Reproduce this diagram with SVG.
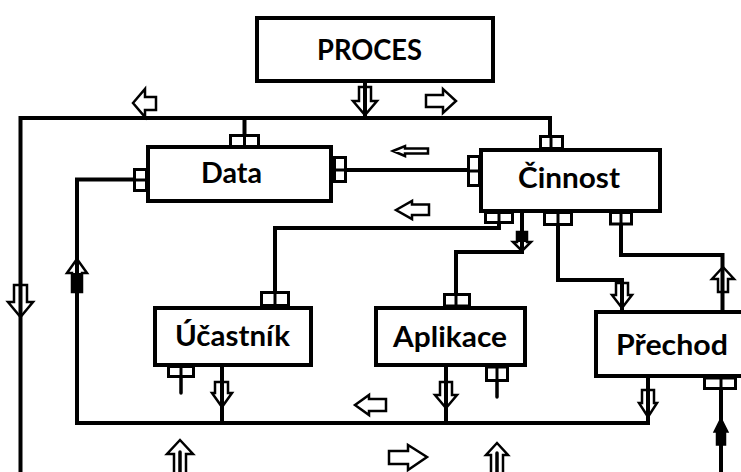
<svg xmlns="http://www.w3.org/2000/svg" width="741" height="472" viewBox="0 0 741 472">
  <style>
    .box { fill: #fff; stroke: #000; stroke-width: 4; }
    .port { fill: #fff; stroke: #000; stroke-width: 3; }
    .div { stroke: #000; stroke-width: 3; fill: none; }
    .wire { fill: none; stroke: #000; stroke-width: 4; stroke-linejoin: miter; stroke-linecap: square; }
    .stub { fill: none; stroke: #000; stroke-width: 3.5; stroke-linecap: round; }
    .ha { fill: #fff; stroke: #000; stroke-width: 2.5; stroke-linejoin: miter; }
    .fa { fill: #000; stroke: #000; stroke-width: 1.5; }
    .lbl { font-family: Lato, "Liberation Sans", Arial, sans-serif; font-weight: bold; font-size: 28px; fill: #000; }
  </style>
  <rect width="741" height="472" fill="#fff"/>

  <!-- flow arrows (drawn first so the wires run through them) -->
  <g id="flows">
    <polygon class="ha" points="133,103 145,89 145,97 156,97 156,110 145,110 145,117"/>
    <polygon class="ha" points="359,87 371,87 371,101 377,101 365,115 353,101 359,101"/>
    <polygon class="ha" points="426,95 443,95 443,89 456,101 443,113 443,107 426,107"/>
    <polygon class="ha" points="393,151 405,146 405,148.5 428,148.5 428,153.5 405,153.5 405,156"/>
    <polygon class="ha" points="396,210 412,201 412,204.5 429,204.5 429,215 412,215 412,219"/>
    <polygon class="ha" points="517,232 527,232 527,242 531,242 522,251 513,242 517,242"/>
    <rect x="517" y="232" width="9" height="10" fill="#000"/>
    <polygon class="ha" points="616,283 628,283 628,295 632,295 622,308 612,295 616,295"/>
    <polygon class="ha" points="723,267 734,279 728,279 728,292 718,292 718,279 712,279"/>
    <polygon class="ha" points="215,382 228,382 228,393 232,393 222,407 212,393 215,393"/>
    <polygon class="ha" points="440,382 452,382 452,395 457,395 446,408 435,395 440,395"/>
    <polygon class="ha" points="355,405 369,395 369,399 386,399 386,411 369,411 369,415"/>
    <polygon class="ha" points="642,390 654,390 654,403 657,403 648,417 639,403 642,403"/>
    <polygon class="fa" points="721,418 728,432 725.5,432 725.5,445 716.5,445 716.5,432 714,432"/>
    <polygon class="ha" points="180,440 193,454 186,454 186,475 174,475 174,454 167,454"/>
    <polygon class="ha" points="389,451 408,451 408,445 427,457 408,470 408,464 389,464"/>
    <polygon class="ha" points="497,443 508,455 503,455 503,475 491,475 491,455 486,455"/>
    <polygon class="ha" points="14,285 27,285 27,302 33,302 20.5,317 8,302 14,302"/>
    <polygon class="ha" points="77,259 87,273 82,273 82,292 72,292 72,273 67,273"/>
    <rect x="72" y="273" width="10" height="19" fill="#000"/>
  </g>

  <!-- wires between the ports -->
  <g id="connectors">
    <path class="wire" d="M20.5,474 V118 H550 V137"/>
    <path class="wire" d="M365,83 V118"/>
    <path class="wire" d="M244.5,118 V136"/>
    <path class="wire" d="M346,170 H468"/>
    <path class="wire" d="M134,179.5 H77 V423 H648 V378"/>
    <path class="wire" d="M222,367 V423"/>
    <path class="wire" d="M446,367 V423"/>
    <path class="wire" d="M499,222 V228 H275 V293"/>
    <path class="wire" d="M522,213 V252 H456 V295"/>
    <path class="wire" d="M558,224 V280 H622 V310"/>
    <path class="wire" d="M621,224 V255 H722.5 V310"/>
    <path class="wire" d="M721,389 V474"/>
    <path class="stub" d="M181,377 V393"/>
    <path class="stub" d="M497,381 V397"/>
    <path class="stub" d="M180,452 V474"/>
    <path class="stub" d="M497,453 V474"/>
  </g>

  <g id="proces">
    <rect class="box" x="257" y="18" width="236" height="63"/>
    <text class="lbl" x="317" y="60" textLength="105" lengthAdjust="spacingAndGlyphs">PROCES</text>
  </g>

  <g id="data">
    <rect class="box" x="148" y="147" width="183" height="54"/>
    <rect class="port" x="230.5" y="135.5" width="28" height="11"/>
    <path class="div" d="M244.5,135.5 V146.5"/>
    <rect class="port" x="134.5" y="169.5" width="12" height="21"/>
    <path class="div" d="M134.5,180 H146.5"/>
    <rect class="port" x="334.5" y="157.5" width="11" height="24"/>
    <path class="div" d="M334.5,170 H345.5"/>
    <text class="lbl" x="201" y="183" textLength="61" lengthAdjust="spacingAndGlyphs">Data</text>
  </g>

  <g id="cinnost">
    <rect class="box" x="481" y="150" width="179" height="61"/>
    <rect class="port" x="540.5" y="136.5" width="22" height="12"/>
    <path class="div" d="M551,136.5 V148.5"/>
    <rect class="port" x="468.5" y="156.5" width="11" height="29"/>
    <path class="div" d="M468.5,171 H479.5"/>
    <rect class="port" x="485.5" y="212.5" width="27" height="10"/>
    <path class="div" d="M499,212.5 V222.5"/>
    <rect class="port" x="544.5" y="212.5" width="27" height="12"/>
    <path class="div" d="M558,212.5 V224.5"/>
    <rect class="port" x="610.5" y="212.5" width="21" height="11.5"/>
    <path class="div" d="M621,212.5 V224"/>
    <text class="lbl" x="518" y="188" textLength="102" lengthAdjust="spacingAndGlyphs">Činnost</text>
  </g>

  <g id="ucastnik">
    <rect class="box" x="155" y="308" width="156" height="57"/>
    <rect class="port" x="261.5" y="292.5" width="27" height="13"/>
    <path class="div" d="M275,292.5 V305.5"/>
    <rect class="port" x="168.5" y="366.5" width="25" height="10"/>
    <path class="div" d="M181,366.5 V376.5"/>
    <text class="lbl" x="175" y="346" textLength="115" lengthAdjust="spacingAndGlyphs">Účastník</text>
  </g>

  <g id="aplikace">
    <rect class="box" x="376" y="308" width="149" height="57"/>
    <rect class="port" x="444.5" y="294.5" width="25" height="11.5"/>
    <path class="div" d="M456,294.5 V306"/>
    <rect class="port" x="486.5" y="367" width="21" height="13.5"/>
    <path class="div" d="M497,367 V380.5"/>
    <text class="lbl" x="393" y="347" textLength="114" lengthAdjust="spacingAndGlyphs">Aplikace</text>
  </g>

  <g id="prechod">
    <rect class="box" x="596" y="312" width="160" height="64"/>
    <rect class="port" x="704.5" y="378" width="31" height="10.5"/>
    <path class="div" d="M721,378 V388.5"/>
    <text class="lbl" x="616" y="355" textLength="112" lengthAdjust="spacingAndGlyphs">Přechod</text>
  </g>
</svg>
